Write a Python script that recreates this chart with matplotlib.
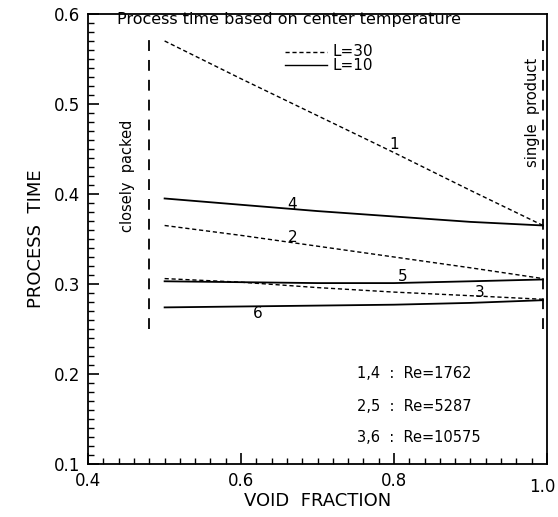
import numpy as np
import matplotlib
matplotlib.use('Agg')
import matplotlib.pyplot as plt
from matplotlib.ticker import MultipleLocator

plt.rcParams['font.family'] = ['DejaVu Sans']

# ====== 数据 ======
void_fraction = [0.5, 0.6, 0.7, 0.8, 0.9, 0.995]

# L=30 (dashed)
curve_1 = [0.570, 0.528, 0.487, 0.446, 0.404, 0.365]
curve_2 = [0.365, 0.354, 0.342, 0.330, 0.318, 0.306]
curve_3 = [0.306, 0.302, 0.296, 0.291, 0.287, 0.283]
# L=10 (solid)
curve_4 = [0.395, 0.388, 0.381, 0.375, 0.369, 0.365]
curve_5 = [0.303, 0.302, 0.301, 0.301, 0.303, 0.305]
curve_6 = [0.274, 0.275, 0.276, 0.277, 0.279, 0.282]

curve_labels = ['1', '2', '3', '4', '5', '6']
label_x = [0.800, 0.667, 0.912, 0.667, 0.812, 0.622]
label_y = [0.455, 0.352, 0.290, 0.388, 0.308, 0.267]

closely_packed_x = 0.48
single_product_x = 0.995
limit_y = [0.25, 0.577]

re_text = ['1,4  :  Re=1762', '2,5  :  Re=5287', '3,6  :  Re=10575']
re_y = [0.201, 0.164, 0.130]

x_ticks = [0.4, 0.6, 0.8, 1.0]
y_ticks = [0.1, 0.2, 0.3, 0.4, 0.5, 0.6]

# ====== 绘图 ======
fig = plt.figure(figsize=(5.58, 5.17), dpi=100)
ax = fig.add_axes([0.158, 0.1025, 0.822, 0.8705])

dash = (0, (3, 2))
for ys in [curve_1, curve_2, curve_3]:
    ax.plot(void_fraction, ys, color='black', lw=1.0, linestyle=dash)
for ys in [curve_4, curve_5, curve_6]:
    ax.plot(void_fraction, ys, color='black', lw=1.3)

# 边界竖线
ax.plot([closely_packed_x] * 2, limit_y, color='black', lw=1.3, linestyle=(0, (6, 5)))
ax.plot([single_product_x] * 2, limit_y, color='black', lw=1.3, linestyle=(0, (6, 5)))

for lab, x, y in zip(curve_labels, label_x, label_y):
    ax.text(x, y, lab, fontsize=11, ha='center', va='center')

ax.text(0.438, 0.594, 'Process time based on center temperature',
        fontsize=11.5, ha='left', va='center')

# 图例
ax.plot([0.657, 0.712], [0.558, 0.558], color='black', lw=1.0, linestyle=dash)
ax.plot([0.657, 0.712], [0.543, 0.543], color='black', lw=1.0)
ax.text(0.720, 0.558, 'L=30', fontsize=11, ha='left', va='center')
ax.text(0.720, 0.543, 'L=10', fontsize=11, ha='left', va='center')

ax.text(0.452, 0.42, 'closely  packed', fontsize=10.5, rotation=90,
        ha='center', va='center')
ax.text(0.981, 0.491, 'single  product', fontsize=10.5, rotation=90,
        ha='center', va='center')

for t, y in zip(re_text, re_y):
    ax.text(0.752, y, t, fontsize=10.5, ha='left', va='center')

# ====== 坐标轴 ======
ax.set_xlim(0.4, 1.0)
ax.set_ylim(0.1, 0.6)
ax.set_xticks(x_ticks)
ax.set_yticks(y_ticks)
ax.xaxis.set_minor_locator(MultipleLocator(0.02))
ax.yaxis.set_minor_locator(MultipleLocator(0.01))
ax.tick_params(which='major', direction='in', length=8, width=1.2, labelsize=12,
               top=False, right=False, pad=6)
ax.tick_params(which='minor', direction='in', length=4, width=1.0,
               top=False, right=False)
# 最右边的 1.0 单独画，往左挪一点，避免被裁掉
ax.set_xticklabels([f'{v:.1f}' for v in x_ticks[:-1]] + [''])
ax.annotate(f'{x_ticks[-1]:.1f}', xy=(x_ticks[-1], 0),
            xycoords=('data', 'axes fraction'), xytext=(-3, -10),
            textcoords='offset points', ha='center', va='top', fontsize=12)
ax.set_yticklabels([f'{v:.1f}' for v in y_ticks])
for s in ax.spines.values():
    s.set_linewidth(1.3)

ax.set_xlabel('VOID  FRACTION', fontsize=13, labelpad=1)
ax.set_ylabel('PROCESS  TIME', fontsize=13, labelpad=6)

plt.savefig('out.png', dpi=100)
